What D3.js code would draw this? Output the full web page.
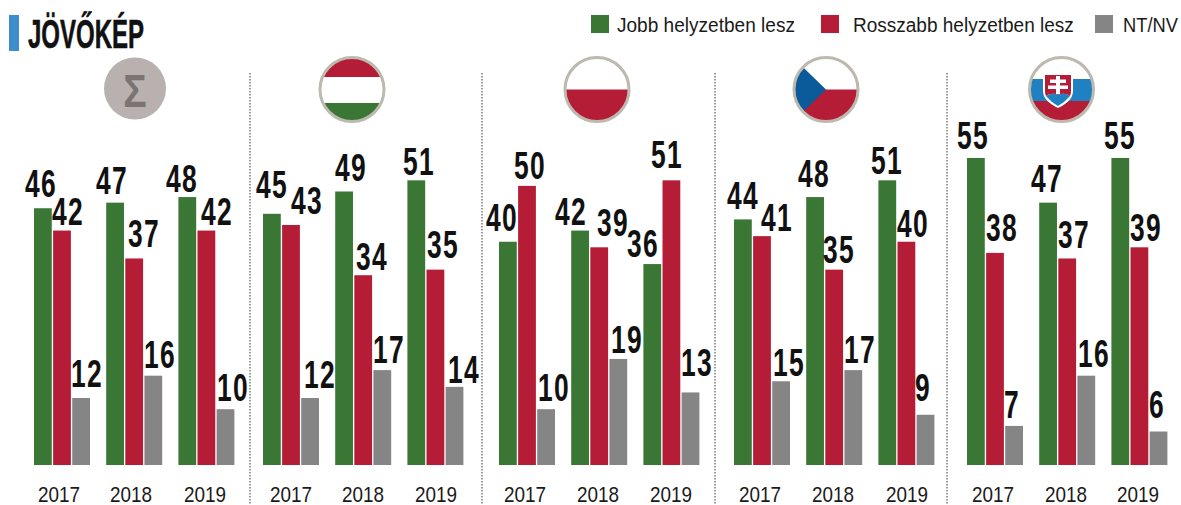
<!DOCTYPE html>
<html><head><meta charset="utf-8">
<style>html,body{margin:0;background:#fff}svg{display:block}</style>
<script src="https://cdnjs.cloudflare.com/ajax/libs/d3/7.8.5/d3.min.js"></script>
</head><body><svg id="c" width="1181" height="505"></svg>
<script>
const panels = ["Összesen","Magyarország","Lengyelország","Csehország","Szlovákia"];
const years = ["2017","2018","2019"];
const seriesNames = ["Jobb helyzetben lesz","Rosszabb helyzetben lesz","NT/NV"];
const better = [46,47,48, 45,49,51, 40,42,36, 44,48,51, 55,47,55];
const worse  = [42,37,42, 43,34,35, 50,39,51, 41,35,40, 38,37,39];
const dontKnow = [12,16,10, 12,17,14, 10,19,13, 15,17,9, 7,16,6];
const seriesValues = [better,worse,dontKnow];
const colors = ["#3a7734","#b51c36","#858585"];

// layout only
const panelLeft = [34,263,499,734,967];
const flagCx = [135,352,597,826,1061.5];
const dividers = [250,482,715,947];
const labelCx = [
 [41,112,182, 272,351,419, 502,571,643, 743,814,887, 973,1047,1120],
 [68,144,217, 307,372,443, 530,613,667, 777,839,913, 1002,1074,1146],
 [87,160,233, 320,389,464, 554,627,697, 789,860,923, 1012,1094,1157]];
const labelBase = [
 [197,194,192, 198,181,175, 231,225,257, 209,187,174, 149,192,149],
 [225,247,225, 214,270,258, 179,236,168, 231,263,237, 241,248,241],
 [387,368,401, 388,363,383, 401,353,376, 376,363,401, 418,367,418]];
const yearCx = [59,131,205, 291,363,436, 525,598,671, 760,833,907, 993,1066,1138];

const svg = d3.select("#c");
const y = d3.scaleLinear().domain([0,55]).range([465,158]);
const xPanel = d3.scaleOrdinal().domain(panels).range(panelLeft);
const xYear = d3.scaleBand().domain(years).range([0,216.6]).padding(0);
const xSeries = d3.scaleBand().domain(seriesNames).range([0,56]).paddingInner(0.07).paddingOuter(0);
const narrow = "'Liberation Sans Narrow','Liberation Sans',Arial,sans-serif";
const sans = "'Liberation Sans',Arial,sans-serif";

// header
svg.append("rect").attr("x",9).attr("y",15).attr("width",10).attr("height",36).attr("fill","#3f8dcb");
svg.append("text").attr("x",28).attr("y",48).attr("font-family",narrow).attr("font-weight",700)
  .attr("font-size",40).attr("fill","#111").attr("stroke","#111").attr("stroke-width",0.6)
  .attr("textLength",116).attr("lengthAdjust","spacingAndGlyphs").text("JÖVŐKÉP");

// legend
const legX=[591,821,1095], legT=[617,853,1123], legW=[178,221,55];
seriesNames.forEach((n,i)=>{
  svg.append("rect").attr("x",legX[i]).attr("y",15).attr("width",18).attr("height",18).attr("fill",colors[i]);
  const t = svg.append("text").attr("font-family",sans)
    .attr("font-size",21).attr("fill","#1a1a1a").text(n);
  const k = legW[i]/t.node().getComputedTextLength();
  t.attr("transform",`translate(${legT[i]},32) scale(${k},1)`);
});

// dividers
svg.selectAll("line.div").data(dividers).join("line").attr("class","div")
  .attr("x1",d=>d).attr("x2",d=>d).attr("y1",73).attr("y2",505)
  .attr("stroke","#666").attr("stroke-width",1.3).attr("stroke-dasharray","1.5 1.5");

// bars and labels
panels.forEach((p,pi)=>{
  const g = svg.append("g").attr("transform",`translate(${xPanel(p)},0)`);
  years.forEach((yr,yi)=>{
    const gx = xYear(yr), k = pi*3+yi;
    seriesNames.forEach((s,si)=>{
      const v = seriesValues[si][k];
      g.append("rect").attr("x",gx+xSeries(s)).attr("y",y(v)).attr("width",xSeries.bandwidth())
        .attr("height",y(0)-y(v)).attr("fill",colors[si]);
      svg.append("text").attr("text-anchor","middle")
        .attr("transform",`translate(${labelCx[si][k]},${labelBase[si][k]}) scale(0.88,1.28)`)
        .attr("font-family",narrow).attr("font-weight",700).attr("font-size",30).attr("letter-spacing",1.5)
        .attr("fill","#111").text(v);
    });
    svg.append("text").attr("x",yearCx[k]).attr("y",501.5).attr("text-anchor","middle")
      .attr("font-family",sans).attr("font-size",22).attr("fill","#1a1a1a")
      .attr("textLength",42).attr("lengthAdjust","spacingAndGlyphs").text(yr);
  });
});

// flag badges
const R=33.5, r=31.5;
const defs = svg.append("defs");
flagCx.forEach((cx,i)=>{
  defs.append("clipPath").attr("id","f"+i).append("circle").attr("cx",cx).attr("cy",89.5).attr("r",r);
});
function band(i,y0,h,fill){svg.append("rect").attr("clip-path",`url(#f${i})`).attr("x",flagCx[i]-R).attr("y",y0).attr("width",2*R).attr("height",h).attr("fill",fill);}
function ring(i){svg.append("circle").attr("cx",flagCx[i]).attr("cy",89.5).attr("r",R-1.5).attr("fill","none").attr("stroke","#bdb9ae").attr("stroke-width",3);}
// sigma
svg.append("circle").attr("cx",flagCx[0]).attr("cy",88.5).attr("r",31).attr("fill","#b9b1af");
svg.append("text").attr("transform",`translate(${flagCx[0]},106.5) scale(0.85,1)`).attr("text-anchor","middle").attr("font-family",sans).attr("font-weight",700).attr("font-size",46).attr("fill","#7b7472").text("Σ");
// HU
band(1,56,21,"#b51c36");band(1,77,26,"#fff");band(1,103,21,"#3a7734");ring(1);
// PL
band(2,56,33.5,"#fff");band(2,89.5,34,"#b51c36");ring(2);
// CZ
band(3,56,33.5,"#fff");band(3,89.5,34,"#b51c36");
svg.append("path").attr("clip-path","url(#f3)").attr("d",`M${flagCx[3]-34},${89.5-33} L${flagCx[3]},89.5 L${flagCx[3]-34},${89.5+33}Z`).attr("fill","#0b5a99");ring(3);
// SK
const sx=1058;
band(4,56,23,"#fff");band(4,79,22,"#1f81c2");band(4,101,23,"#b51c36");ring(4);
svg.append("path").attr("d",`M${sx-15},73 H${sx+15} V91 Q${sx+15},101 ${sx},108 Q${sx-15},101 ${sx-15},91 Z`).attr("fill","#fff");
svg.append("path").attr("d",`M${sx-13},75 H${sx+13} V91 Q${sx+13},94 ${sx+12},96 Q${sx+6},92 ${sx},95 Q${sx-6},92 ${sx-12},96 Q${sx-13},94 ${sx-13},91 Z`).attr("fill","#b51c36");
svg.append("path").attr("d",`M${sx-12},96 Q${sx-6},92 ${sx},95 Q${sx+6},92 ${sx+12},96 Q${sx+7},102 ${sx},106 Q${sx-7},102 ${sx-12},96Z`).attr("fill","#1f81c2");
svg.append("path").attr("d",`M${sx-2},76 h4 v3.5 h6 v3.5 h-6 v2.5 h8 v3.5 h-8 v5 h-4 v-5 h-8 v-3.5 h8 v-2.5 h-6 v-3.5 h6 Z`).attr("fill","#fff");
</script></body></html>
